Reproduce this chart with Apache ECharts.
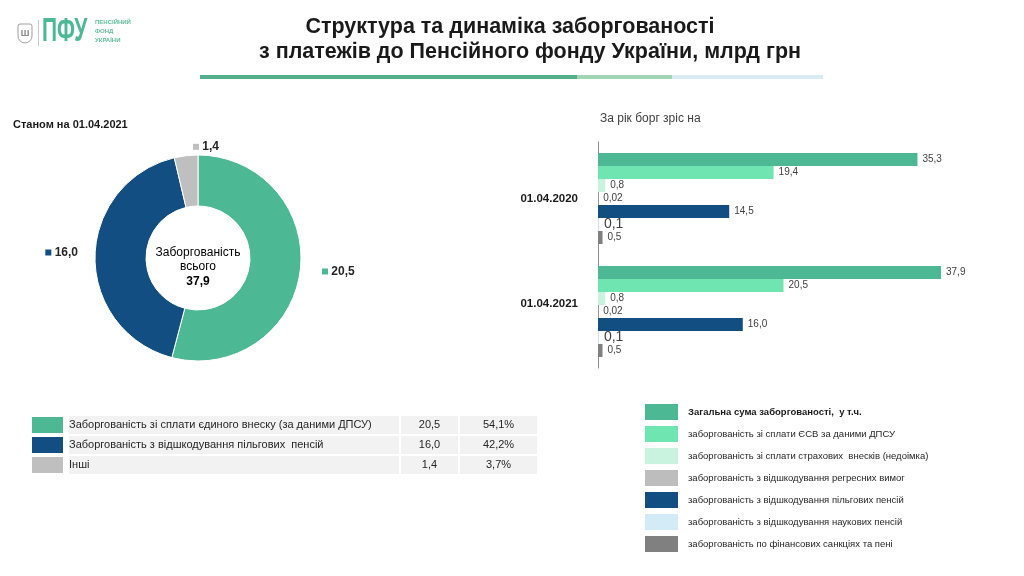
<!DOCTYPE html>
<html><head><meta charset="utf-8">
<script src="https://cdn.jsdelivr.net/npm/echarts@6/dist/echarts.min.js"></script>
<style>html,body{margin:0;padding:0;background:#fff}#c{width:1024px;height:576px}</style>
</head><body><div id="c"></div>
<script>
// ---- data ----
const titleLines = ['Структура та динаміка заборгованості', 'з платежів до Пенсійного фонду України, млрд грн'];
const pieNames = ['Заборгованість зі сплати єдиного внеску (за даними ДПСУ)', 'Заборгованість з відшкодування пільгових  пенсій', 'Інші'];
const pieValues = [20.5, 16.0, 1.4];
const barCategories = ['01.04.2020', '01.04.2021'];
const barNames = [
  'Загальна сума заборгованості,  у т.ч.',
  'заборгованість зі сплати ЄСВ за даними ДПСУ',
  'заборгованість зі сплати страхових  внесків (недоімка)',
  'заборгованість з відшкодування регресних вимог',
  'заборгованість з відшкодування пільгових пенсій',
  'заборгованість з відшкодування наукових пенсій',
  'заборгованість по фінансових санкціях та пені'
];
const totalDebt = [35.3, 37.9];
const esvDebt = [19.4, 20.5];
const insuranceDebt = [0.8, 0.8];
const regressDebt = [0.02, 0.02];
const privilegedDebt = [14.5, 16.0];
const scientificDebt = [0.1, 0.1];
const sanctionsDebt = [0.5, 0.5];
const barValues = [totalDebt, esvDebt, insuranceDebt, regressDebt, privilegedDebt, scientificDebt, sanctionsDebt];

// ---- styles ----
const pieColors = ['#4DB894', '#134E82', '#BFBFBF'];
const barColors = ['#4DB894', '#6FE6B1', '#C9F2DF', '#BDBDBD', '#134E82', '#D3EAF7', '#808080'];
const FONT = '"Liberation Sans", Arial, sans-serif';

const fmt = v => v.toFixed(v < 0.1 ? 2 : 1).replace('.', ',');
const pieTotal = pieValues.reduce((a, b) => a + b, 0);
const pct = v => (v / pieTotal * 100).toFixed(1).replace('.', ',') + '%';

const pieRich = { v: { fontSize: 12, fontWeight: 'bold', color: '#262626', fontFamily: FONT } };
pieColors.forEach((c, i) => { pieRich['s' + i] = { width: 6, height: 6, backgroundColor: c }; });

const chart = echarts.init(document.getElementById('c'));

const barSeries = barNames.map((n, i) => ({
  type: 'bar',
  name: n,
  data: barValues[i],
  barWidth: 13,
  barGap: '0%',
  itemStyle: { color: barColors[i] },
  label: {
    show: true, position: 'right', distance: 5,
    color: '#404040', fontFamily: FONT,
    fontSize: i === 5 ? 14 : 10,
    formatter: p => fmt(p.value)
  }
}));

const cell = { height: 18, lineHeight: 18, backgroundColor: '#F2F2F2', color: '#262626', fontSize: 11, fontFamily: FONT };
const tableRich = {
  n: Object.assign({ width: 330 }, cell),
  sp: { width: 2, height: 18 },
  v: Object.assign({ width: 57, align: 'center' }, cell),
  p: Object.assign({ width: 77, align: 'center' }, cell)
};

const catLabelStyle = { fontSize: 11.5, fontWeight: 'bold', color: '#1A1A1A', fontFamily: FONT };

chart.setOption({
  animation: false,
  textStyle: { fontFamily: FONT },
  title: [
    { text: 'Станом на 01.04.2021', left: 13, top: 119, padding: 0,
      textStyle: { fontSize: 11, fontWeight: 'bold', color: '#1A1A1A', fontFamily: FONT } },
    { text: 'За рік борг зріс на', left: 600, top: 113, padding: 0,
      textStyle: { fontSize: 12, fontWeight: 'normal', color: '#404040', fontFamily: FONT } }
  ],
  legend: [
    {
      data: pieNames, orient: 'vertical', left: 30, top: 415, padding: 0,
      itemWidth: 33, itemHeight: 18, itemGap: 0, icon: 'rect',
      selectedMode: false,
      formatter: name => {
        const i = pieNames.indexOf(name);
        return '{n|' + name + '}{sp|}{v|' + fmt(pieValues[i]) + '}{sp|}{p|' + pct(pieValues[i]) + '}';
      },
      textStyle: { rich: tableRich }
    },
    {
      data: barNames, orient: 'vertical', left: 645, top: 404, padding: 0,
      itemWidth: 33, itemHeight: 16, itemGap: 6, icon: 'rect',
      selectedMode: false,
      formatter: name => name === barNames[0] ? '{b|' + name + '}' : name,
      textStyle: { fontSize: 9.5, color: '#262626', fontFamily: FONT, padding: [0, 0, 0, 5],
        rich: { b: { fontSize: 9.5, fontWeight: 'bold', color: '#1A1A1A', fontFamily: FONT } } }
    }
  ],
  grid: { left: 598, top: 142, width: 362, height: 226, containLabel: false },
  xAxis: { type: 'value', min: 0, max: 40, show: false },
  yAxis: {
    type: 'category', data: barCategories, inverse: true,
    axisLine: { show: true, lineStyle: { color: '#8C8C8C', width: 1 } },
    axisTick: { show: false },
    axisLabel: Object.assign({
      margin: 20,
      formatter: (v, i) => i === 1 ? '{up|' + v + '}' : '{n|' + v + '}',
      rich: { n: catLabelStyle, up: Object.assign({ padding: [0, 0, 16, 0] }, catLabelStyle) }
    }, catLabelStyle)
  },
  series: [
    {
      type: 'pie',
      center: [198, 258],
      radius: [52, 103],
      startAngle: 90,
      clockwise: true,
      data: pieNames.map((n, i) => ({ name: n, value: pieValues[i], itemStyle: { color: pieColors[i] } })),
      itemStyle: { borderColor: '#fff', borderWidth: 1 },
      label: {
        show: true, position: 'outside',
        formatter: p => '{s' + p.dataIndex + '|} {v|' + fmt(p.value) + '}',
        rich: pieRich
      },
      labelLine: { show: false, length: 18, length2: 0 },
      labelLayout: p => p.dataIndex === 2 ? { dx: 40, dy: 9 } : (p.dataIndex === 1 ? { dx: 6, dy: -4 } : { dx: -1, dy: -2 }),
      emphasis: { disabled: true }
    }
  ].concat(barSeries),
  graphic: [
    { type: 'text', x: 510, y: 16,
      style: { text: titleLines[0], textAlign: 'center', textVerticalAlign: 'top', fill: '#1A1A1A', fontSize: 21.5, fontWeight: 'bold', fontFamily: FONT } },
    { type: 'text', x: 530, y: 41,
      style: { text: titleLines[1], textAlign: 'center', textVerticalAlign: 'top', fill: '#1A1A1A', fontSize: 21.5, fontWeight: 'bold', fontFamily: FONT } },
    { type: 'text', x: 198, y: 246,
      style: {
        text: '{a|Заборгованість}\n{a|всього}\n{b|' + fmt(pieTotal) + '}',
        textAlign: 'center', textVerticalAlign: 'top',
        rich: {
          a: { fontSize: 12, color: '#404040', lineHeight: 14, fontFamily: FONT },
          b: { fontSize: 12, fontWeight: 'bold', color: '#1A1A1A', lineHeight: 15, fontFamily: FONT }
        }
      } },
    // header underline
    { type: 'rect', shape: { x: 200, y: 75, width: 377, height: 4 }, style: { fill: '#52AE8B' } },
    { type: 'rect', shape: { x: 577, y: 75, width: 95, height: 4 }, style: { fill: '#A3D4B5' } },
    { type: 'rect', shape: { x: 672, y: 75, width: 151, height: 4 }, style: { fill: '#D7ECF4' } },
    // logo
    { type: 'rect', shape: { x: 18, y: 24, width: 14, height: 19, r: [2, 2, 7, 7] }, style: { fill: 'none', stroke: '#A0A0A0', lineWidth: 1 } },
    { type: 'text', x: 25, y: 33, style: { text: 'ш', fill: '#909090', fontSize: 11, fontWeight: 'bold', textAlign: 'center', textVerticalAlign: 'middle', fontFamily: FONT } },
    { type: 'rect', shape: { x: 38, y: 20, width: 1, height: 26 }, style: { fill: '#C8C8C8' } },
    { type: 'text', x: 42, y: 32, scaleY: 1.6, originX: 0, originY: 0,
      style: { text: 'ПФУ', fill: '#4DB894', fontSize: 21, fontWeight: 'bold', textVerticalAlign: 'middle', fontFamily: FONT } },
    { type: 'text', x: 95, y: 31,
      style: { text: 'ПЕНСІЙНИЙ\nФОНД\nУКРАЇНИ', fill: '#5CBF9A', fontSize: 6, fontWeight: 'bold', lineHeight: 9, textVerticalAlign: 'middle', fontFamily: FONT } }
  ]
});
</script></body></html>
